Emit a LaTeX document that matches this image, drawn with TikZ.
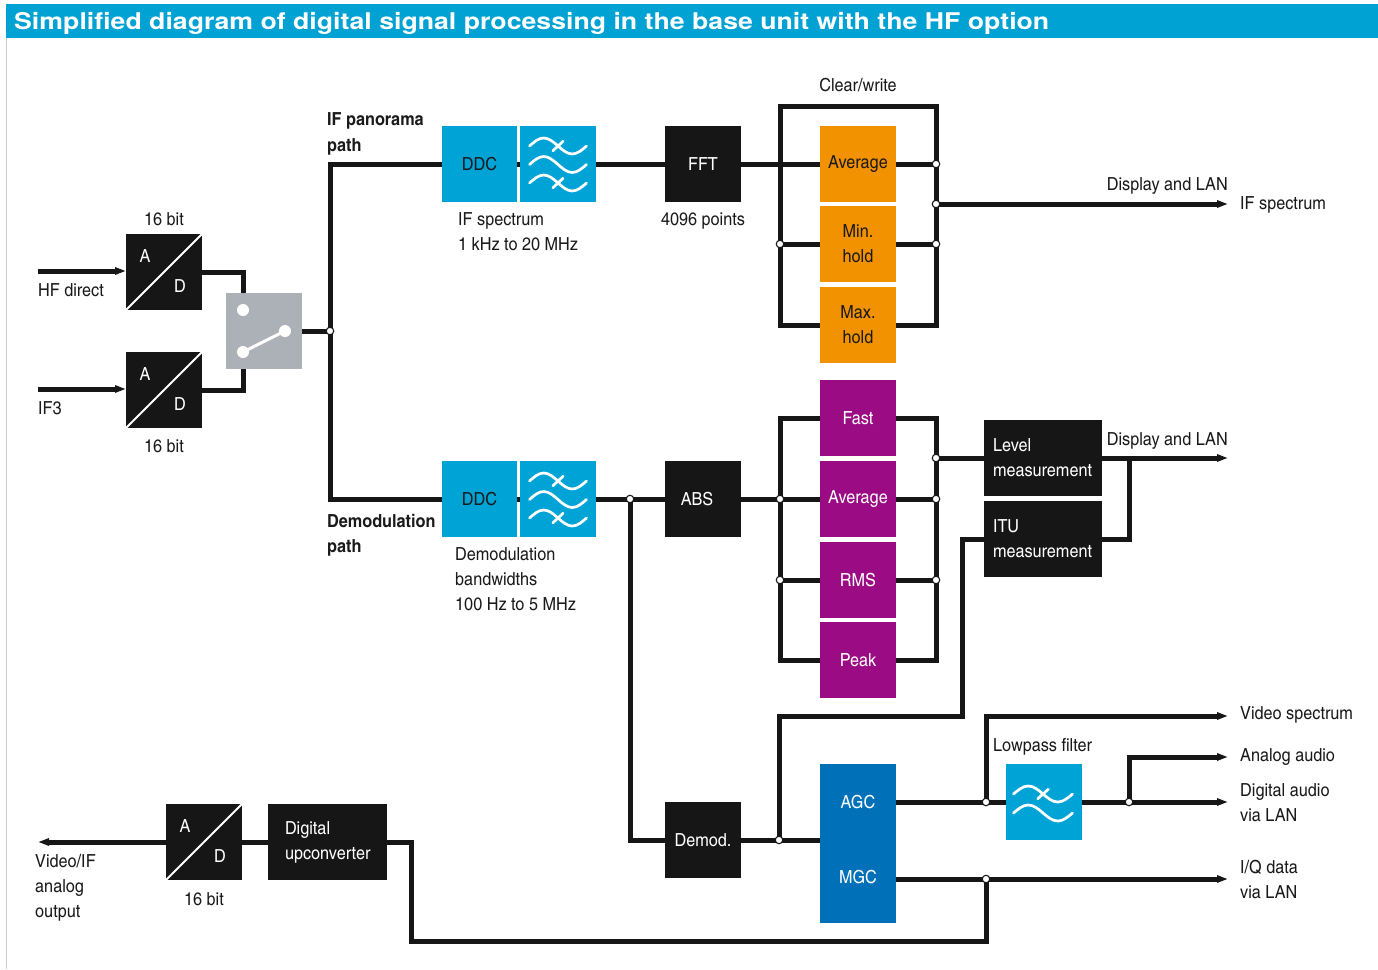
\documentclass[tikz,border=0pt]{standalone}
\usepackage{fontspec}
\setmainfont{texgyreheroscn}[Extension=.otf,UprightFont=*-regular,BoldFont=*-bold,FakeStretch=1.1]
\newfontfamily\titlefont{texgyreheros}[Extension=.otf,UprightFont=*-regular,BoldFont=*-bold,FakeStretch=1.16]
\usetikzlibrary{arrows.meta,calc}
\pgfdeclarelayer{bg}
\pgfdeclarelayer{paper}
\pgfsetlayers{paper,bg,main}
\definecolor{blk}{HTML}{161616}
\definecolor{linec}{HTML}{161616}
\definecolor{txt}{HTML}{1A1A1A}
\definecolor{cyanb}{HTML}{00A3D6}
\definecolor{titleb}{HTML}{00A1D3}
\definecolor{agcb}{HTML}{0071B9}
\definecolor{orng}{HTML}{F39200}
\definecolor{purp}{HTML}{9A0B84}
\definecolor{swg}{HTML}{ABB1B7}
\definecolor{edgeg}{HTML}{C9CED3}
\tikzset{
  wave/.pic={\draw[white,line width=2.7pt,line cap=round] (-1,0) sin (-0.5,-1) cos (0,0) sin (0.5,1) cos (1,0);},
  wavex/.pic={\draw[white,line width=2.7pt,line cap=round] (-1,0) sin (-0.5,-1) cos (0,0) sin (0.5,1) cos (1,0);
              \draw[white,line width=2.7pt,line cap=round] (-0.18,0.6) -- (0.18,-0.6);}
}
\begin{document}
\begin{tikzpicture}[x=1pt,y=-1pt,
  font=\fontsize{18}{25}\selectfont,
  ln/.style={draw=linec,line width=5pt},
  arr/.style={-{Triangle[length=11pt,width=7pt]}},
  boxb/.style={fill=blk,minimum width=76pt,minimum height=76pt,inner sep=0pt,outer sep=0pt,text=white},
  boxc/.style={boxb,fill=cyanb,text=txt},
  boxo/.style={boxb,fill=orng,text=txt,align=center},
  boxp/.style={boxb,fill=purp,text=white},
  lbl/.style={inner sep=0pt,text=txt},
  mlbl/.style={lbl,align=left,anchor=north west},
  jdot/.style={circle,fill=white,draw=linec,line width=1.1pt,inner sep=0pt,minimum size=7.5pt},
]
\begin{pgfonlayer}{paper}
\fill[white] (0,0) rectangle (1378,969);
\end{pgfonlayer}
\useasboundingbox (0,0) rectangle (1378,969);
% title
\fill[titleb] (6,4) rectangle (1378,38);
\draw[edgeg,line width=1.2pt] (6.5,38) -- (6.5,969);
\node[inner sep=0pt,anchor=base west,text=white,font=\titlefont\bfseries\fontsize{23}{26}\selectfont] (title) at (14,29) {Simplified diagram of digital signal processing in the base unit with the HF option};

% boxes
\node[boxb] (ad1) at (164,272) {};
\node[boxb] (ad2) at (164,390) {};
\node[boxb] (ad3) at (204,842) {};
\node[boxb,fill=swg] (sw) at (264,331) {};
\node[boxc,minimum width=75pt] (ddc1) at (479.5,164) {DDC};
\node[boxc] (flt1) at (558,164) {};
\node[boxb] (fft) at (703,164) {FFT};
\node[boxo] (avg1) at (858,164) {Average};
\node[boxo] (minh) at (858,244) {Min.\\hold};
\node[boxo] (maxh) at (858,325) {Max.\\hold};
\node[boxp] (fast) at (858,418) {Fast};
\node[boxp] (avg2) at (858,499) {Average};
\node[boxp] (rms) at (858,580) {RMS};
\node[boxp] (peak) at (858,660) {Peak};
\node[boxc,minimum width=75pt] (ddc2) at (479.5,499) {DDC};
\node[boxc] (flt2) at (558,499) {};
\node[boxb] (abs) at (703,499) {};
\node[lbl,text=white] (abst) at (697,499) {ABS};
\node[boxb] (demod) at (703,840) {Demod.};
\node[boxb,fill=agcb,minimum height=159pt] (agc) at (858,843.5) {};
\node[lbl,text=white] (agct) at (858,802) {AGC};
\node[lbl,text=white] (mgct) at (858,877) {MGC};
\node[boxc] (lp) at (1044,802) {};
\node[boxb,minimum width=118pt,text width=100pt,inner xsep=9pt,align=left] (level) at (1043,458) {Level\\measurement};
\node[boxb,minimum width=118pt,text width=100pt,inner xsep=9pt,align=left] (itu) at (1043,539) {ITU\\measurement};
\node[boxb,minimum width=119pt,text width=85pt,inner xsep=17pt,align=left] (duc) at (327.5,842) {Digital\\upconverter};

% A/D details
\foreach \n in {ad1,ad2,ad3}{
  \draw[white,line width=2pt] (\n.south west) -- (\n.north east);
  \node[lbl,text=white] (\n-a) at ($(\n.center)+(-19,-16)$) {A};
  \node[lbl,text=white] (\n-d) at ($(\n.center)+(16,14)$) {D};
}
% switch
\draw[white,line width=3pt] (243,352) -- (285,331);
\fill[white] (243,310) circle (6pt) (243,352) circle (6pt) (285,331) circle (6pt);
% filters
\pic[xscale=28.5,yscale=8] at (558,146) {wavex};
\pic[xscale=28.5,yscale=8] at (558,164.5) {wave};
\pic[xscale=28.5,yscale=8] at (558,183) {wavex};
\pic[xscale=28.5,yscale=8] at (558,481) {wavex};
\pic[xscale=28.5,yscale=8] at (558,499.5) {wave};
\pic[xscale=28.5,yscale=8] at (558,518) {wavex};
\pic[xscale=29.5,yscale=8] at (1043,794) {wavex};
\pic[xscale=29.5,yscale=8] at (1043,813) {wave};

% coordinates
\coordinate (hfin) at (38,271);
\coordinate (if3in) at (38,389);
\coordinate (split) at (330,331);
\coordinate (ifout) at (1228,204);
\coordinate (lvlout) at (1228,458);
\coordinate (vidout) at (1228,716);
\coordinate (anaout) at (1228,757);
\coordinate (digout) at (1228,802);
\coordinate (iqout) at (1228,879);
\coordinate (vidifout) at (38,842);

\begin{pgfonlayer}{bg}
\draw[ln,arr] (hfin) -- (hfin -| ad1.west);
\draw[ln,arr] (if3in) -- (if3in -| ad2.west);
\draw[ln] (ad1.east) -| (243,293);
\draw[ln] (ad2.east) -| (243,369);
\draw[ln] (sw.east) -- (split);
\draw[ln] (ddc1.west) -| (split) |- (ddc2.west);
\draw[ln] (ddc1.east) -- (flt1.west);
\draw[ln] (flt1.east) -- (fft.west);
\draw[ln] (fft.east) -- (avg1.west);
\draw[ln] (780,106) rectangle (936,325);
\draw[ln] (avg1.east) -- (936,164);
\draw[ln] (780,244) -- (minh.west);
\draw[ln] (minh.east) -- (936,244);
\draw[ln,arr] (936,204) -- (ifout);
\draw[ln] (780,418) rectangle (936,660);
\draw[ln] (ddc2.east) -- (flt2.west);
\draw[ln] (flt2.east) -- (abs.west);
\draw[ln] (abs.east) -- (avg2.west);
\draw[ln] (avg2.east) -- (936,499);
\draw[ln] (780,580) -- (rms.west);
\draw[ln] (rms.east) -- (936,580);
\draw[ln] (936,458) -- (level.west);
\draw[ln,arr] (level.east) -- (lvlout);
\draw[ln] (itu.east) -| (1129,458);
\draw[ln] (itu.west) -| (962,716) -| (779,840);
\draw[ln] (630,499) |- (demod.west);
\draw[ln] (demod.east) -- (agc.west |- demod.east);
\draw[ln] (agc.east |- lp.west) -- (lp.west);
\draw[ln,arr] (986,802) |- (vidout);
\draw[ln,arr] (lp.east) -- (digout);
\draw[ln,arr] (1129,802) |- (anaout);
\draw[ln,arr] (agc.east |- iqout) -- (iqout);
\draw[ln] (986,879) |- (411,941) |- (duc.east);
\draw[ln] (duc.west) -- (ad3.east);
\draw[ln,arr] (ad3.west) -- (vidifout);
\end{pgfonlayer}

% junction dots
\foreach \p [count=\i] in {(330,331),(936,164),(780,244),(936,244),(936,204),(936,458),(780,499),(936,499),(780,580),(936,580),(630,499),(779,840),(986,802),(1129,802),(986,879)}
  \node[jdot] (j\i) at \p {};

% labels
\node[lbl,anchor=base] (b1) at (164,225.4) {16 bit};
\node[lbl,anchor=base] (b2) at (164,452.4) {16 bit};
\node[lbl,anchor=base] (b3) at (204,905.4) {16 bit};
\node[lbl,anchor=base west] (hfl) at (38,296.4) {HF direct};
\node[lbl,anchor=base west] (if3l) at (38,414.4) {IF3};
\node[lbl,anchor=base] (cwl) at (858,91.4) {Clear/write};
\node[lbl,anchor=base] (ptsl) at (703,225.4) {4096 points};
\node[lbl,anchor=base east] (dl1) at (1228,190.4) {Display and LAN};
\node[lbl,anchor=base west] (ifsl) at (1240,209.4) {IF spectrum};
\node[lbl,anchor=base east] (dl2) at (1228,445.4) {Display and LAN};
\node[lbl,anchor=base west] (lpl) at (993,751.4) {Lowpass filter};
\node[lbl,anchor=base west] (vsl) at (1240,719.4) {Video spectrum};
\node[lbl,anchor=base west] (aal) at (1240,761.4) {Analog audio};
\node[mlbl,font=\fontsize{18}{26}\selectfont\bfseries] (ifp) at (327,112.5) {IF panorama\\path};
\node[mlbl,font=\fontsize{18}{25}\selectfont\bfseries] (dmp) at (327,514.5) {Demodulation\\path};
\node[mlbl] (ifsp) at (458,212.5) {IF spectrum\\1 kHz to 20 MHz};
\node[mlbl] (dmb) at (455,547.5) {Demodulation\\bandwidths\\100 Hz to 5 MHz};
\node[mlbl] (dal) at (1240,783.5) {Digital audio\\via LAN};
\node[mlbl] (iql) at (1240,860.5) {I/Q data\\via LAN};
\node[mlbl] (vifl) at (35,854.5) {Video/IF\\analog\\output};
\end{tikzpicture}
\end{document}
